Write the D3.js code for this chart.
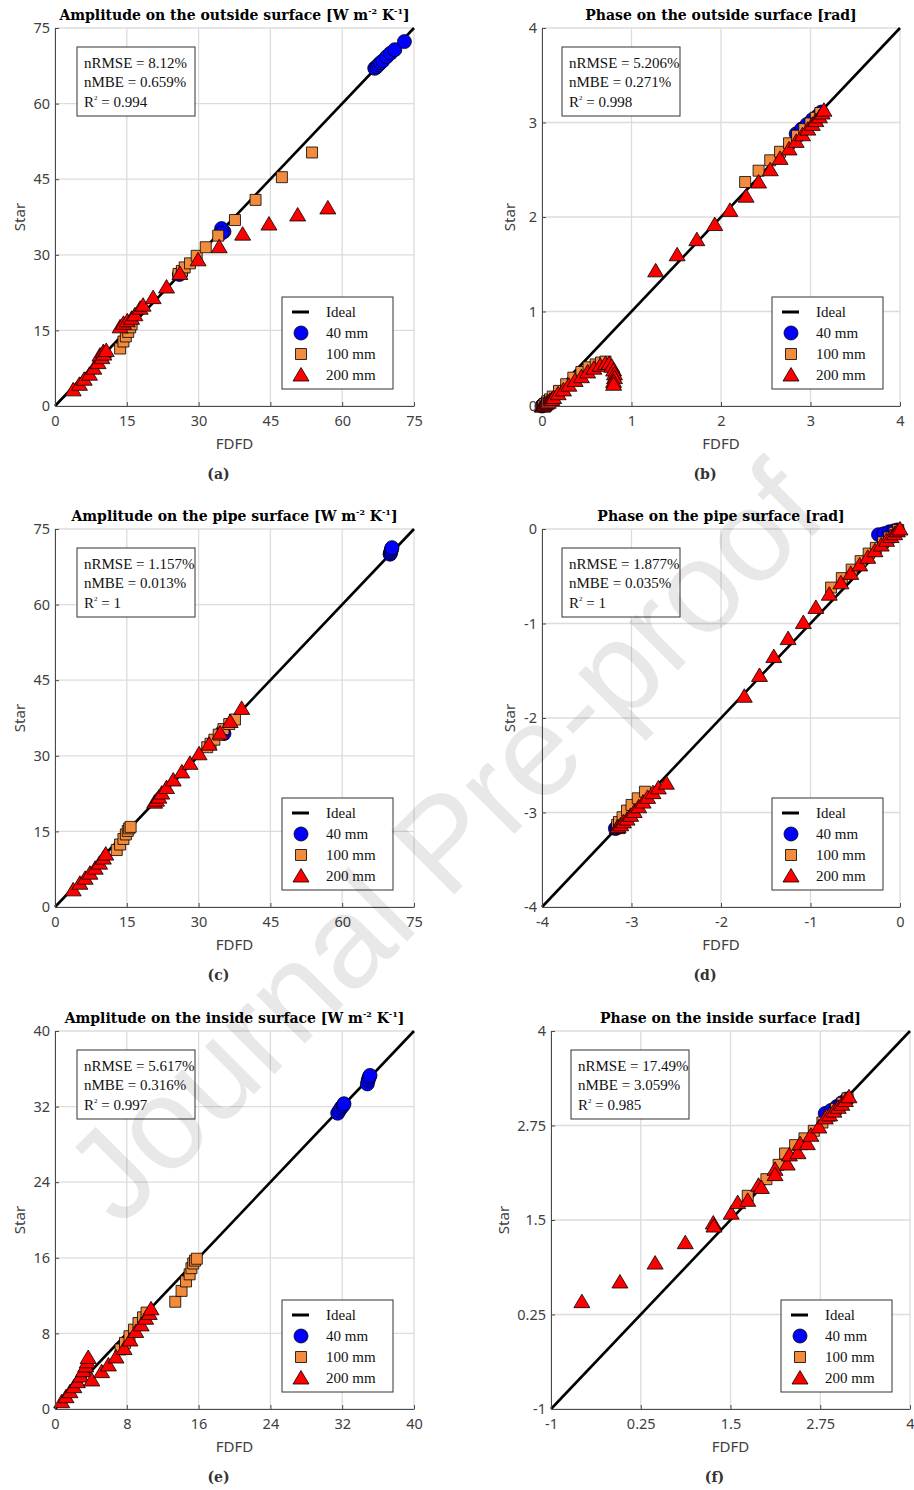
<!DOCTYPE html>
<html>
<head>
<meta charset="utf-8">
<script src="https://cdn.jsdelivr.net/npm/d3@7"></script>
<style>
    body{ margin:0; background:#fff; }
    .tick text{ font-family:"Noto Sans"; font-size:14.5px; fill:#404040; }
    .ttl{ font-family:"DejaVu Serif"; font-weight:bold; font-size:14px; fill:#000; }
    .lab{ font-family:"Noto Sans"; font-size:15px; fill:#404040; }
    .sub{ font-family:"DejaVu Serif"; font-weight:bold; font-size:14px; fill:#333; }
    .box text{ font-family:"Liberation Serif"; font-size:15px; fill:#111; }
</style>
<title>FDFD vs Star</title>
</head>
<body>
<div id="chart"></div>
<script>
// ---- tick labels per axis kind
var ticksAmp = [0, 15, 30, 45, 60, 75];
var ticksPhaseOut = [0, 1, 2, 3, 4];
var ticksPhasePipe = [-4, -3, -2, -1, 0];
var ticksAmpIn = [0, 8, 16, 24, 32, 40];
var ticksPhaseIn = [-1, 0.25, 1.5, 2.75, 4];

// ---- series (FDFD, Star)
var ampOut40 = [[26.0,26.1],[26.3,26.4],[34.9,34.9],[35.3,34.6],[34.8,35.2],[34.8,34.3],
    [66.8,67.0],[67.2,67.3],[67.6,67.7],[68.0,68.1],[68.5,68.5],[69.3,69.3],[70.1,70.0],[71.0,70.7],[73.0,72.3]];
var ampOut100 = [[13.6,11.4],[14.3,12.8],[14.8,13.8],[15.3,14.7],[15.7,15.6],[16.0,16.2],
    [25.8,26.2],[26.5,26.8],[27.1,27.5],[28.2,28.3],[29.6,29.8],[31.5,31.5],[34.1,33.8],[37.6,36.9],[41.9,40.9],[47.4,45.4],[53.7,50.3]];
var ampOut200 = [[3.8,3.2],[5.1,4.3],[6.1,5.3],[7.2,6.3],[8.1,7.5],[9.0,8.6],[9.4,10.1],[9.8,9.6],[10.1,10.8],[10.2,10.3],[10.7,11.0],
    [13.6,15.7],[14.3,16.4],[15.1,16.9],[16.0,17.4],[16.7,18.1],[17.8,19.4],[18.4,20.0],[20.5,21.5],[23.3,23.6],
    [26.1,26.3],[29.9,29.0],[34.3,31.6],[39.2,34.1],[44.7,36.1],[50.7,37.9],[57.0,39.3]];

var phaseOut40 = [[0.0,0.0],[0.01,0.01],[0.02,0.01],[0.03,0.02],[0.04,0.03],[0.05,0.04],
    [2.84,2.88],[2.9,2.93],[2.96,2.98],[3.02,3.03],[3.08,3.07],[3.12,3.11]];
var phaseOut100 = [[0.01,0.0],[0.03,0.02],[0.06,0.05],[0.09,0.07],[0.12,0.1],[0.19,0.16],[0.27,0.23],[0.35,0.3],[0.44,0.36],
    [0.52,0.41],[0.6,0.44],[0.66,0.46],[0.71,0.47],
    [2.27,2.37],[2.42,2.49],[2.55,2.6],[2.66,2.69],[2.76,2.78],[2.85,2.86],[2.93,2.93],[3.0,2.99],[3.06,3.05],[3.11,3.1]];
var phaseOut200 = [[0.0,0.0],[0.01,0.0],[0.02,0.01],[0.03,0.02],[0.05,0.03],[0.07,0.04],[0.09,0.06],[0.11,0.07],[0.13,0.09],
    [0.18,0.13],[0.24,0.17],[0.3,0.22],[0.37,0.27],[0.44,0.31],[0.51,0.36],
    [0.58,0.4],[0.65,0.43],[0.71,0.45],[0.75,0.45],[0.78,0.42],[0.8,0.38],[0.81,0.34],[0.81,0.3],[0.8,0.26],[0.8,0.23],
    [1.27,1.43],[1.51,1.6],[1.73,1.76],[1.93,1.92],[2.1,2.07],[2.28,2.22],[2.42,2.37],[2.55,2.5],[2.66,2.62],[2.76,2.72],
    [2.84,2.8],[2.91,2.87],[2.97,2.93],[3.02,2.98],[3.06,3.02],[3.1,3.06],[3.13,3.1],[3.15,3.13]];

var ampPipe40 = [[35.0,34.8],[35.3,34.4],[70.0,70.0],[70.1,70.3],[70.2,70.6],[70.3,71.0],[70.4,71.3]];
var ampPipe100 = [[12.9,11.3],[13.6,12.4],[14.3,13.5],[14.8,14.4],[15.2,15.1],[15.5,15.6],[15.8,15.9],
    [31.8,31.7],[32.5,32.4],[33.3,33.2],[34.2,34.2],[35.2,35.3],[36.4,36.3],[37.6,37.2]];
var ampPipe200 = [[3.8,3.4],[5.2,4.7],[6.3,5.7],[7.3,6.7],[8.4,7.7],[9.3,8.7],[10.1,9.7],[10.6,10.5],
    [20.8,20.8],[21.2,21.2],[21.7,21.8],[22.3,22.6],[23.3,23.7],[24.7,25.2],[26.5,26.8],[28.2,28.5],[30.1,30.4],
    [32.2,32.3],[34.5,34.5],[36.6,36.8],[39.0,39.4]];

var phasePipe40 = [[-3.18,-3.17],[-3.16,-3.16],[-3.14,-3.13],[-3.11,-3.1],[-3.08,-3.07],
    [-0.24,-0.06],[-0.18,-0.05],[-0.12,-0.03],[-0.07,-0.02],[-0.03,-0.01]];
var phasePipe100 = [[-3.16,-3.13],[-3.14,-3.1],[-3.1,-3.05],[-3.05,-2.98],[-3.0,-2.92],[-2.93,-2.85],[-2.85,-2.78],
    [-0.77,-0.62],[-0.65,-0.52],[-0.54,-0.43],[-0.44,-0.34],[-0.35,-0.26],[-0.27,-0.2],[-0.19,-0.14],[-0.12,-0.09],[-0.06,-0.04],[-0.02,-0.01]];
var phasePipe200 = [[-3.16,-3.16],[-3.15,-3.15],[-3.12,-3.13],[-3.09,-3.1],[-3.05,-3.07],[-3.01,-3.03],[-2.97,-2.99],[-2.92,-2.94],[-2.87,-2.89],
    [-2.82,-2.84],[-2.76,-2.79],[-2.7,-2.74],[-2.61,-2.69],[-1.74,-1.77],[-1.57,-1.55],[-1.41,-1.35],[-1.25,-1.16],[-1.08,-0.99],
    [-0.94,-0.83],[-0.79,-0.69],[-0.66,-0.57],[-0.55,-0.47],[-0.45,-0.38],[-0.36,-0.3],[-0.28,-0.23],[-0.21,-0.17],[-0.15,-0.12],
    [-0.1,-0.08],[-0.06,-0.05],[-0.03,-0.02],[0,0]];

var ampIn40 = [[31.5,31.3],[31.7,31.6],[31.9,31.9],[32.1,32.1],[32.2,32.3],[34.8,34.4],[34.9,34.8],[35.0,35.1],[35.1,35.3]];
var ampIn100 = [[7.3,6.3],[7.8,7.0],[8.3,7.7],[8.8,8.4],[9.3,9.1],[9.8,9.7],[10.2,10.2],
    [13.4,11.35],[14.1,12.5],[14.6,13.5],[15.0,14.25],[15.2,14.9],[15.4,15.4],[15.6,15.7],[15.8,15.9]];
var ampIn200 = [[0.75,0.77],[1.23,1.3],[1.67,1.83],[2.1,2.36],[2.49,2.89],[2.86,3.49],[3.16,4.05],[3.42,4.55],[3.6,5.0],[3.7,5.45],
    [4.1,3.07],[5.2,3.95],[5.95,4.66],[6.8,5.5],[7.7,6.4],[8.36,7.3],[9.0,8.2],[9.6,8.9],[10.1,9.6],[10.5,10.1],[10.7,10.6]];

var phaseIn40 = [[2.82,2.91],[2.9,2.95],[2.98,3.0],[3.05,3.05],[3.12,3.1]];
var phaseIn100 = [[1.74,1.82],[2.0,2.04],[2.17,2.23],[2.26,2.38],[2.4,2.49],[2.53,2.58],[2.66,2.68],[2.78,2.79],[2.88,2.88],
    [2.97,2.97],[3.06,3.05],[3.13,3.11]];
var phaseIn200 = [[-0.57,0.42],[-0.04,0.68],[0.45,0.93],[0.87,1.2],[1.26,1.46],[1.27,1.42],[1.51,1.59],[1.6,1.73],[1.74,1.76],
    [1.89,1.96],[1.93,1.93],[2.12,2.17],[2.12,2.1],[2.29,2.24],[2.32,2.36],[2.44,2.39],[2.47,2.51],[2.57,2.51],[2.62,2.62],
    [2.73,2.73],[2.82,2.85],[2.88,2.89],[2.94,2.94],[3.0,2.99],[3.05,3.03],[3.1,3.08],[3.15,3.13]];

// ---- text
var titles = ["Amplitude on the outside surface", "Phase on the outside surface [rad]",
              "Amplitude on the pipe surface", "Phase on the pipe surface [rad]",
              "Amplitude on the inside surface", "Phase on the inside surface [rad]"];
var subLabels = ["(a)", "(b)", "(c)", "(d)", "(e)", "(f)"];
var nRMSE = ["8.12%", "5.206%", "1.157%", "1.877%", "5.617%", "17.49%"];
var nMBE = ["0.659%", "0.271%", "0.013%", "0.035%", "0.316%", "3.059%"];
var rSquared = ["0.994", "0.998", "1", "1", "0.997", "0.985"];

var seriesNames = ["40 mm", "100 mm", "200 mm"];
var seriesColors = ["#0000ff", "#f28c3c", "#ff0000"];
var seriesShapes = ["circle", "square", "triangle"];

var panels = [
    {ticks: ticksAmp,       data: [ampOut40, ampOut100, ampOut200],       left: 55,  top: 28,   w: 359, h: 378, unit: true,  boxDx: 22, legDx: 21, ylabDx: 35},
    {ticks: ticksPhaseOut,  data: [phaseOut40, phaseOut100, phaseOut200], left: 542, top: 28,   w: 358, h: 378, unit: false, boxDx: 20, legDx: 17, ylabDx: 32},
    {ticks: ticksAmp,       data: [ampPipe40, ampPipe100, ampPipe200],    left: 55,  top: 529,  w: 359, h: 378, unit: true,  boxDx: 22, legDx: 21, ylabDx: 35},
    {ticks: ticksPhasePipe, data: [phasePipe40, phasePipe100, phasePipe200], left: 542, top: 529, w: 358, h: 378, unit: false, boxDx: 20, legDx: 17, ylabDx: 32},
    {ticks: ticksAmpIn,     data: [ampIn40, ampIn100, ampIn200],          left: 55,  top: 1031, w: 359, h: 378, unit: true,  boxDx: 22, legDx: 21, ylabDx: 35},
    {ticks: ticksPhaseIn,   data: [phaseIn40, phaseIn100, phaseIn200],    left: 551, top: 1031, w: 359, h: 378, unit: false, boxDx: 20, legDx: 18, ylabDx: 47}
];

var svg = d3.select("#chart").append("svg")
    .attr("width", 914)
    .attr("height", 1490);

function markerPath(shape) {
    if (shape == "circle") return d3.symbol(d3.symbolCircle, Math.PI * 7 * 7)();
    if (shape == "square") return "M-5.5,-5.5H5.5V5.5H-5.5Z";
    return "M0,-7.5L8,6L-8,6Z";
}

function drawPanel(p, i) {
    var lo = p.ticks[0], hi = p.ticks[p.ticks.length - 1];
    var x = d3.scaleLinear().domain([lo, hi]).range([p.left, p.left + p.w]);
    var y = d3.scaleLinear().domain([lo, hi]).range([p.top + p.h, p.top]);
    var g = svg.append("g");

    // grid
    g.append("g").selectAll("line").data(p.ticks).join("line")
        .attr("x1", d => x(d)).attr("x2", d => x(d))
        .attr("y1", p.top).attr("y2", p.top + p.h)
        .attr("stroke", "#dcdcdc").attr("stroke-width", 1.3);
    g.append("g").selectAll("line").data(p.ticks).join("line")
        .attr("y1", d => y(d)).attr("y2", d => y(d))
        .attr("x1", p.left).attr("x2", p.left + p.w)
        .attr("stroke", "#dcdcdc").attr("stroke-width", 1.3);

    // ideal line
    g.append("line")
        .attr("x1", x(lo)).attr("y1", y(lo))
        .attr("x2", x(hi)).attr("y2", y(hi))
        .attr("stroke", "#000").attr("stroke-width", 2.6);

    // markers
    p.data.forEach(function (pts, k) {
        g.append("g").selectAll("path").data(pts).join("path")
            .attr("d", markerPath(seriesShapes[k]))
            .attr("transform", d => "translate(" + x(d[0]) + "," + y(d[1]) + ")")
            .attr("fill", seriesColors[k])
            .attr("stroke", "#000")
            .attr("stroke-width", 0.8);
    });

    // axes
    var ax = g.append("g").attr("transform", "translate(0," + (p.top + p.h) + ")")
        .call(d3.axisBottom(x).tickValues(p.ticks).tickFormat(String)
            .tickSizeInner(-4).tickSizeOuter(0).tickPadding(10));
    var ay = g.append("g").attr("transform", "translate(" + p.left + ",0)")
        .call(d3.axisLeft(y).tickValues(p.ticks).tickFormat(String)
            .tickSizeInner(-4).tickSizeOuter(0).tickPadding(5));
    [ax, ay].forEach(function (a) {
        a.select(".domain").attr("stroke", "#4a4a4a").attr("stroke-width", 1);
        a.selectAll(".tick line").attr("stroke", "#4a4a4a");
        a.selectAll(".tick text").attr("font-family", null).attr("font-size", null);
    });

    // title
    var t = g.append("text").attr("class", "ttl")
        .attr("x", p.left + p.w / 2).attr("y", p.top - 8)
        .attr("text-anchor", "middle");
    if (p.unit) {
        t.append("tspan").text(titles[i] + " [W m");
        t.append("tspan").attr("font-size", 8).attr("dy", -6).text("-2");
        t.append("tspan").attr("dy", 6).text(" K");
        t.append("tspan").attr("font-size", 8).attr("dy", -6).text("-1");
        t.append("tspan").attr("dy", 6).text("]");
    } else {
        t.text(titles[i]);
    }

    // axis labels
    g.append("text").attr("class", "lab")
        .attr("x", p.left + p.w / 2).attr("y", p.top + p.h + 43)
        .attr("text-anchor", "middle").text("FDFD");
    g.append("text").attr("class", "lab")
        .attr("transform", "translate(" + (p.left - p.ylabDx + 5) + "," + (p.top + p.h / 2) + ") rotate(-90)")
        .attr("text-anchor", "middle").text("Star");
    g.append("text").attr("class", "sub")
        .attr("x", p.left + p.w / 2 - 16).attr("y", p.top + p.h + 73)
        .attr("text-anchor", "middle").text(subLabels[i]);

    // stats box
    var bx = p.left + p.boxDx, by = p.top + 19;
    var box = g.append("g").attr("class", "box");
    box.append("rect").attr("x", bx).attr("y", by).attr("width", 118).attr("height", 69)
        .attr("fill", "#fff").attr("stroke", "#333").attr("stroke-width", 1);
    box.append("text").attr("x", bx + 7).attr("y", by + 21).text("nRMSE = " + nRMSE[i]);
    box.append("text").attr("x", bx + 7).attr("y", by + 40).text("nMBE = " + nMBE[i]);
    var r2 = box.append("text").attr("x", bx + 7).attr("y", by + 60);
    r2.append("tspan").text("R");
    r2.append("tspan").attr("font-size", 7).attr("dy", -7).text("2");
    r2.append("tspan").attr("dy", 7).text(" = " + rSquared[i]);

    // legend
    var lx = p.left + p.w - p.legDx - 111, ly = p.top + p.h - 17 - 92;
    var leg = g.append("g").attr("class", "box");
    leg.append("rect").attr("x", lx).attr("y", ly).attr("width", 111).attr("height", 92)
        .attr("fill", "#fff").attr("stroke", "#333").attr("stroke-width", 1);
    leg.append("line").attr("x1", lx + 10).attr("x2", lx + 27)
        .attr("y1", ly + 15).attr("y2", ly + 15)
        .attr("stroke", "#000").attr("stroke-width", 3);
    leg.append("text").attr("x", lx + 44).attr("y", ly + 20).text("Ideal");
    seriesNames.forEach(function (nm, k) {
        leg.append("path").attr("d", markerPath(seriesShapes[k]))
            .attr("transform", "translate(" + (lx + 19) + "," + (ly + 36 + 21 * k) + ")")
            .attr("fill", seriesColors[k]).attr("stroke", "#000").attr("stroke-width", 0.8);
        leg.append("text").attr("x", lx + 44).attr("y", ly + 41 + 21 * k).text(nm);
    });
}

panels.forEach(drawPanel);

// watermark
svg.append("text")
    .attr("transform", "translate(443,842) rotate(-45)")
    .attr("text-anchor", "middle")
    .attr("dominant-baseline", "central")
    .attr("font-family", "Liberation Sans")
    .attr("font-size", 130)
    .attr("fill", "#000")
    .attr("fill-opacity", 0.09)
    .text("Journal Pre-proof");
</script>
</body>
</html>
